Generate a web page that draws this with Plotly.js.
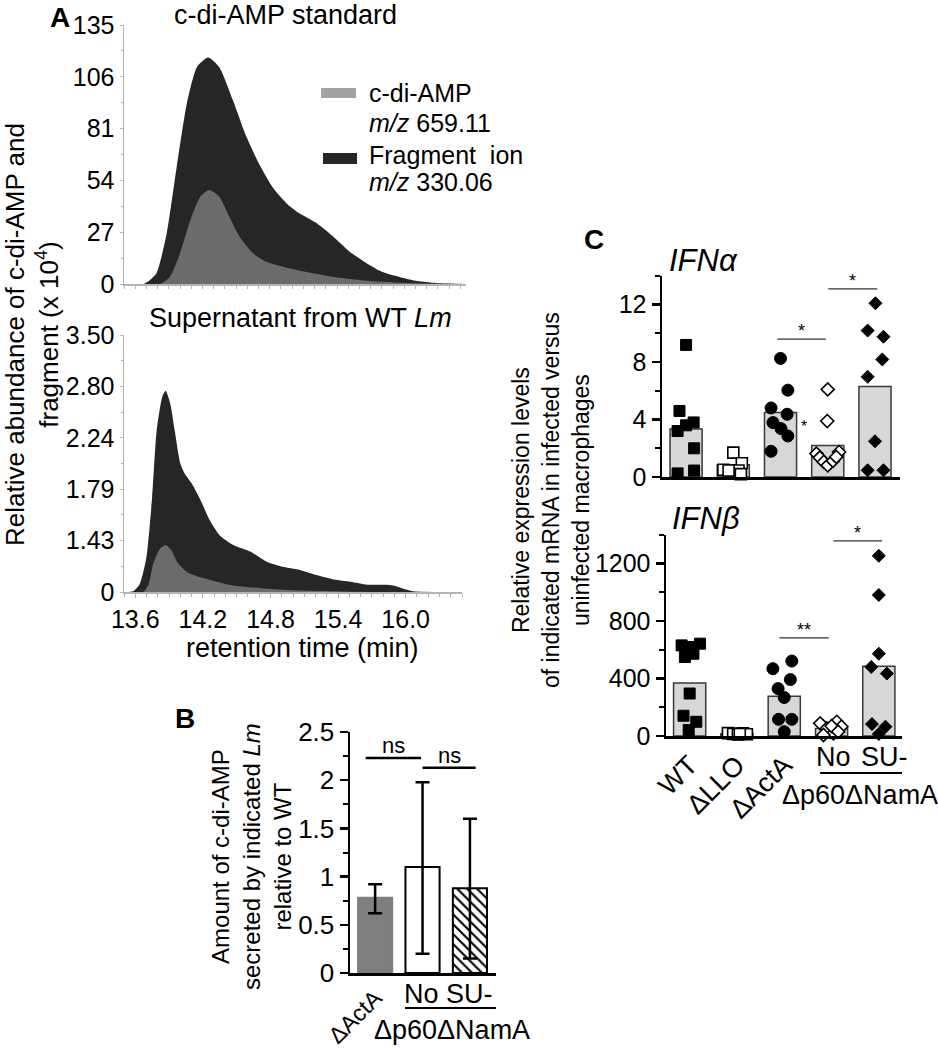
<!DOCTYPE html>
<html><head><meta charset="utf-8">
<script src="https://cdn.plot.ly/plotly-3.0.1.min.js"></script>
<style>body{margin:0;background:#fff}#chart{width:938px;height:1050px}</style>
</head><body><div id="chart"></div>
<script>
// ---------- Panel A: c-di-AMP standard ----------
const stdFragX = [13.50,13.67,13.73,13.79,13.88,13.97,14.06,14.15,14.25,14.35,14.47,14.59,14.71,14.83,14.95,15.06,15.21,15.36,15.51,15.66,15.80,15.95,16.10,16.25,16.40,16.55];
const stdFragY = [0,0,2,5.6,26,61,94,113,118,113,96,77,62,50,42,37,32,25,17,11,6.4,3.8,1.7,0.7,0.2,0];
const stdCdiX  = [13.50,13.82,13.91,14.00,14.09,14.18,14.26,14.35,14.44,14.53,14.65,14.77,14.92,15.06,15.36,15.66,15.95,16.25,16.55];
const stdCdiY  = [0,0,3.8,16,33,45.5,49,45.5,35,24.7,16,11.6,9,7,3.8,1.7,0.7,0.2,0];
const stdTickVals = [0,27,54,81,108,135];
const stdTickText = ["0","27","54","81","106","135"];
// ---------- Panel A: supernatant from WT Lm ----------
const supFragX = [13.50,13.58,13.64,13.70,13.75,13.79,13.84,13.87,13.91,13.95,14.00,14.04,14.10,14.18,14.26,14.35,14.47,14.62,14.77,14.92,15.06,15.21,15.36,15.51,15.66,15.81,15.89,15.98,16.07,16.50];
const supFragY = [0,0.01,0.11,0.48,1.30,2.20,2.66,2.74,2.57,2.20,1.75,1.61,1.48,1.25,0.98,0.77,0.64,0.55,0.41,0.34,0.30,0.23,0.17,0.14,0.10,0.10,0.09,0.045,0.01,0];
const supCdiX  = [13.50,13.67,13.72,13.76,13.82,13.87,13.92,13.98,14.06,14.18,14.32,14.47,14.77,15.06,15.36,15.66,16.50];
const supCdiY  = [0,0,0.11,0.39,0.59,0.64,0.57,0.39,0.27,0.20,0.14,0.09,0.045,0.02,0.01,0,0];
const supTickVals = [0,0.7,1.4,2.1,2.8,3.5];
const supTickText = ["0","1.43","1.79","2.24","2.80","3.50"];

// ---------- Panel B ----------
const bCats = ["ΔActA","No","SU-"];
const bVals = [0.78,1.10,0.88];
const bErrUp = [0.14,0.88,0.72];
const bErrDown = [0.16,0.90,0.73];

// ---------- Panel C ----------
const cCats = ["WT","ΔLLO","ΔActA","No","SU-"];
const alphaBars = [3.35,0.85,4.5,2.2,6.3];
const alphaPts = [
  [9.2,4.6,3.2,3.6,3.8,2.0,0.25,0.45],
  [1.7,0.96,0.5,0.45,0.45,0.2],
  [8.26,6.05,4.81,4.37,3.79,3.37,2.86,1.79],
  [6.1,3.9,1.63,1.74,1.35,1.05,0.81,1.12,1.4],
  [12.1,10.2,9.77,8.19,6.98,2.49,0.47,0.47]
];
const alphaJit = [
  [0,-0.14,-0.18,0,0.16,0.17,-0.18,0.17],
  [0,0.18,-0.21,0.11,-0.1,0.16],
  [0,0.155,-0.2,0.14,-0.16,0.01,0.155,-0.2],
  [0,-0.01,-0.24,0.24,-0.17,-0.085,0,0.11,0.18],
  [0.01,-0.155,0.18,0.155,-0.155,0,-0.155,0.18]
];
const betaBars = [370,15,277,53,485];
const betaPts = [
  [631,643,550,573,620,296,141,99,42],
  [20,15,10,18,12,15],
  [522,469,393,330,268,116,116,30],
  [88,99,53,18,7,65,69,30],
  [1255,982,573,481,435,83,65,14]
];
const betaJit = [
  [-0.17,0.22,-0.1,0.08,0,0,-0.13,0.14,-0.02],
  [-0.19,-0.08,0.02,0.13,0.21,0.06],
  [0.16,-0.24,0.13,-0.13,0,-0.12,0.16,0],
  [-0.24,0.11,-0.1,0.04,-0.17,0.21,0,0.14],
  [0,0,0,-0.16,0.17,-0.145,0.14,0]
];
// significance: [fromCat, toCat, level, label]
const alphaSig = [[1.93,2.96,9.6,"*"],[3.01,4.05,13.1,"*"]];
const betaSig = [[1.9,2.94,684,"**"],[3.04,4.07,1359,"*"]];
const bSig = [[-0.2,0.97,2.23,"ns"],[1.0,2.12,2.13,"ns"]];

const FONT = "Liberation Sans, Arial, Helvetica, sans-serif";
const W = 938, H = 1050;
const X = p => p / W;
const Y = p => 1 - p / H;

const traces = [];
function area(x, y, col, xa, ya) {
  traces.push({type:"scatter", x:x, y:y, mode:"lines", fill:"tozeroy",
    line:{width:0, shape:"spline", smoothing:0.6, color:col}, fillcolor:col,
    xaxis:xa, yaxis:ya, hoverinfo:"skip", showlegend:false});
}
area(stdFragX, stdFragY, "#262626", "x", "y");
area(stdCdiX, stdCdiY, "#6b6b6b", "x", "y");
area(supFragX, supFragY, "#262626", "x2", "y2");
area(supCdiX, supCdiY, "#6b6b6b", "x2", "y2");

const bStyles = [
  {color:"#7f7f7f", line:{color:"#7f7f7f", width:2}},
  {color:"#ffffff", line:{color:"#000", width:2}},
  {color:"#ffffff", line:{color:"#000", width:2}, pattern:{shape:"\\", fgcolor:"#000", bgcolor:"#fff", size:7, solidity:0.3, fillmode:"replace"}}
];
bCats.forEach((c, i) => {
  traces.push({type:"bar", x:[i], y:[bVals[i]], width:0.72, marker:bStyles[i],
    error_y:{type:"data", symmetric:false, array:[bErrUp[i]], arrayminus:[bErrDown[i]], color:"#000", thickness:2.5, width:7},
    xaxis:"x3", yaxis:"y3", showlegend:false, hoverinfo:"skip"});
});

const markers = [
  {symbol:"square", color:"#000", size:11, line:{color:"#000", width:1}},
  {symbol:"square", color:"#fff", size:11, line:{color:"#000", width:1.6}},
  {symbol:"circle", color:"#000", size:12, line:{color:"#000", width:1}},
  {symbol:"diamond", color:"#fff", size:10, line:{color:"#000", width:1.6}},
  {symbol:"diamond", color:"#000", size:10, line:{color:"#000", width:1}}
];
function panelC(bars, pts, jit, xa, ya) {
  traces.push({type:"bar", x:cCats.map((c,i)=>i), y:bars, width:0.68,
    marker:{color:"#d5d8d7", line:{color:"#3a3a3a", width:1.5}},
    xaxis:xa, yaxis:ya, showlegend:false, hoverinfo:"skip"});
  pts.forEach((vals, g) => {
    traces.push({type:"scatter", mode:"markers", x:jit[g].map(o => g + o), y:vals,
      marker:markers[g], xaxis:xa, yaxis:ya, showlegend:false, hoverinfo:"skip", cliponaxis:false});
  });
}
panelC(alphaBars, alphaPts, alphaJit, "x4", "y4");
panelC(betaBars, betaPts, betaJit, "x5", "y5");

const grayAx = "#b4b4b4";
const tf = s => ({family:FONT, size:s, color:"#000"});
const layout = {
  width:W, height:H, autosize:false, margin:{l:0,r:0,t:0,b:0}, barmode:"overlay",
  paper_bgcolor:"#fff", plot_bgcolor:"rgba(0,0,0,0)", showlegend:false,
  font:{family:FONT, color:"#000"},
  xaxis:{domain:[X(124),X(466)], range:[13.5,16.55], anchor:"y", showline:true, linecolor:grayAx, linewidth:1.5,
    ticks:"outside", ticklen:3, tickcolor:grayAx, tick0:13.5, dtick:0.1, showticklabels:false, showgrid:false, zeroline:false},
  yaxis:{domain:[Y(284),Y(25)], range:[0,135], anchor:"x", showline:true, linecolor:grayAx, linewidth:1.5,
    tickmode:"array", tickvals:stdTickVals, ticktext:stdTickText, ticks:"outside", ticklen:3, tickcolor:grayAx,
    minor:{tick0:0, dtick:13.5, ticks:"outside", ticklen:2, tickcolor:grayAx},
    tickfont:tf(25), showgrid:false, zeroline:false},
  xaxis2:{domain:[X(124),X(462)], range:[13.5,16.5], anchor:"y2", showline:true, linecolor:grayAx, linewidth:1.5,
    ticks:"outside", ticklen:4, tickcolor:grayAx, tick0:13.6, dtick:0.6, tickformat:".1f",
    minor:{tick0:13.5, dtick:0.1, ticks:"outside", ticklen:3, tickcolor:grayAx},
    tickfont:tf(25), showgrid:false, zeroline:false},
  yaxis2:{domain:[Y(592),Y(335)], range:[0,3.5], anchor:"x2", showline:true, linecolor:grayAx, linewidth:1.5,
    tickmode:"array", tickvals:supTickVals, ticktext:supTickText, ticks:"outside", ticklen:3, tickcolor:grayAx,
    minor:{tick0:0, dtick:0.35, ticks:"outside", ticklen:2, tickcolor:grayAx},
    tickfont:tf(25), showgrid:false, zeroline:false},
  xaxis3:{domain:[X(350),X(496)], range:[-0.53,2.55], anchor:"y3", showline:true, linecolor:"#000", linewidth:2.5,
    tickmode:"array", tickvals:[0], ticktext:[bCats[0]], tickangle:-45, ticks:"", tickfont:tf(23),
    showgrid:false, zeroline:false},
  yaxis3:{domain:[Y(973),Y(732)], range:[0,2.5], anchor:"x3", showline:true, linecolor:"#000", linewidth:2.5,
    dtick:0.5, ticks:"outside", ticklen:8, tickwidth:2.5, tickcolor:"#000",
    minor:{dtick:0.25, ticks:"outside", ticklen:5, tickwidth:2, tickcolor:"#000"},
    tickfont:tf(26), showgrid:false, zeroline:false},
  xaxis4:{domain:[X(662),X(900)], range:[-0.51,4.53], anchor:"y4", showline:true, linecolor:"#000", linewidth:2.5,
    showticklabels:false, ticks:"", showgrid:false, zeroline:false},
  yaxis4:{domain:[Y(477),Y(276)], range:[0,14], anchor:"x4", showline:true, linecolor:"#000", linewidth:2.5,
    tickmode:"array", tickvals:[0,4,8,12], ticks:"outside", ticklen:8, tickwidth:2.5, tickcolor:"#000",
    minor:{dtick:2, ticks:"outside", ticklen:5, tickwidth:2, tickcolor:"#000"},
    tickfont:tf(25), showgrid:false, zeroline:false},
  xaxis5:{domain:[X(666),X(902)], range:[-0.5,4.49], anchor:"y5", showline:true, linecolor:"#000", linewidth:2.5,
    tickmode:"array", tickvals:[0,1,2], ticktext:cCats.slice(0,3), tickangle:-45, ticks:"", tickfont:tf(27),
    showgrid:false, zeroline:false},
  yaxis5:{domain:[Y(736),Y(535)], range:[0,1400], anchor:"x5", showline:true, linecolor:"#000", linewidth:2.5,
    tickmode:"array", tickvals:[0,400,800,1200], ticks:"outside", ticklen:8, tickwidth:2.5, tickcolor:"#000",
    minor:{dtick:200, ticks:"outside", ticklen:5, tickwidth:2, tickcolor:"#000"},
    tickfont:tf(25), showgrid:false, zeroline:false},
  shapes:[], annotations:[]
};

const ann = (o) => layout.annotations.push(Object.assign({showarrow:false, font:tf(25), xanchor:"center", yanchor:"middle"}, o));
// panel letters
ann({text:"<b>A</b>", xref:"paper", yref:"paper", x:X(60), y:Y(18), font:tf(28)});
ann({text:"<b>B</b>", xref:"paper", yref:"paper", x:X(185), y:Y(718), font:tf(28)});
ann({text:"<b>C</b>", xref:"paper", yref:"paper", x:X(594), y:Y(240), font:tf(28)});
// panel A texts
ann({text:"c-di-AMP standard", xref:"paper", yref:"paper", x:X(285), y:Y(15), font:tf(27)});
ann({text:"Supernatant from WT <i>Lm</i>", xref:"paper", yref:"paper", x:X(300), y:Y(318), font:tf(27)});
ann({text:"retention time (min)", xref:"paper", yref:"paper", x:X(302), y:Y(648), font:tf(27)});
ann({text:"Relative abundance of c-di-AMP and<br>fragment (x 10<sup>4</sup>)", xref:"paper", yref:"paper",
  x:X(32), y:Y(335), textangle:-90, font:tf(26)});
// legend
layout.shapes.push({type:"rect", xref:"paper", yref:"paper", x0:X(321), x1:X(356), y0:Y(98), y1:Y(88), fillcolor:"#a3a3a3", line:{width:0}});
layout.shapes.push({type:"rect", xref:"paper", yref:"paper", x0:X(323), x1:X(357), y0:Y(164), y1:Y(153), fillcolor:"#262626", line:{width:0}});
ann({text:"c-di-AMP", xref:"paper", yref:"paper", x:X(367), y:Y(93), xanchor:"left"});
ann({text:"<i>m/z</i> 659.11", xref:"paper", yref:"paper", x:X(367), y:Y(123), xanchor:"left"});
ann({text:"Fragment  ion", xref:"paper", yref:"paper", x:X(367), y:Y(155), xanchor:"left"});
ann({text:"<i>m/z</i> 330.06", xref:"paper", yref:"paper", x:X(367), y:Y(182), xanchor:"left"});

// panel B texts
ann({text:"Amount of c-di-AMP<br>secreted by indicated <i>Lm</i><br>relative to WT", xref:"paper", yref:"paper",
  x:X(251), y:Y(857), textangle:-90, font:tf(24)});
bSig.forEach(s => {
  layout.shapes.push({type:"line", xref:"x3", yref:"y3", x0:s[0], x1:s[1], y0:s[2], y1:s[2], line:{color:"#000", width:2.5}});
  ann({text:s[3], xref:"x3", yref:"y3", x:(s[0]+s[1])/2, y:s[2], yanchor:"bottom", yshift:-2, font:tf(22)});
});
ann({text:bCats[1], xref:"x3", yref:"paper", x:0.97, y:Y(994), font:tf(27)});
ann({text:bCats[2], xref:"x3", yref:"paper", x:2.0, y:Y(994), font:tf(27)});
layout.shapes.push({type:"line", xref:"x3", yref:"paper", x0:0.63, x1:2.57, y0:Y(1008), y1:Y(1008), line:{color:"#000", width:2}});
ann({text:"Δp60ΔNamA", xref:"x3", yref:"paper", x:1.62, y:Y(1030), font:tf(27)});

// panel C texts
ann({text:"<i>IFNα</i>", xref:"paper", yref:"paper", x:X(667), y:Y(260), xanchor:"left", font:tf(31)});
ann({text:"<i>IFNβ</i>", xref:"paper", yref:"paper", x:X(670), y:Y(518), xanchor:"left", font:tf(31)});
ann({text:"Relative expression levels<br>of indicated mRNA in infected versus<br>uninfected macrophages", xref:"paper", yref:"paper",
  x:X(551), y:Y(500), textangle:-90, font:tf(23)});
function sig(list, xa, ya) {
  list.forEach(s => {
    layout.shapes.push({type:"line", xref:xa, yref:ya, x0:s[0], x1:s[1], y0:s[2], y1:s[2], line:{color:"#333", width:1.2}});
    ann({text:s[3], xref:xa, yref:ya, x:(s[0]+s[1])/2, y:s[2], yanchor:"bottom", yshift:-4, font:tf(18)});
  });
}
sig(alphaSig, "x4", "y4");
sig(betaSig, "x5", "y5");
ann({text:"*", xref:"x4", yref:"y4", x:2.5, y:3.55, font:tf(16)});
ann({text:cCats[3], xref:"x5", yref:"paper", x:3.05, y:Y(757), font:tf(27)});
ann({text:cCats[4], xref:"x5", yref:"paper", x:4.12, y:Y(757), font:tf(27)});
layout.shapes.push({type:"line", xref:"x5", yref:"paper", x0:2.76, x1:4.58, y0:Y(773), y1:Y(773), line:{color:"#000", width:2}});
ann({text:"Δp60ΔNamA", xref:"x5", yref:"paper", x:3.61, y:Y(795), font:tf(27)});

Plotly.newPlot("chart", traces, layout, {staticPlot:true, displayModeBar:false});
</script></body></html>
